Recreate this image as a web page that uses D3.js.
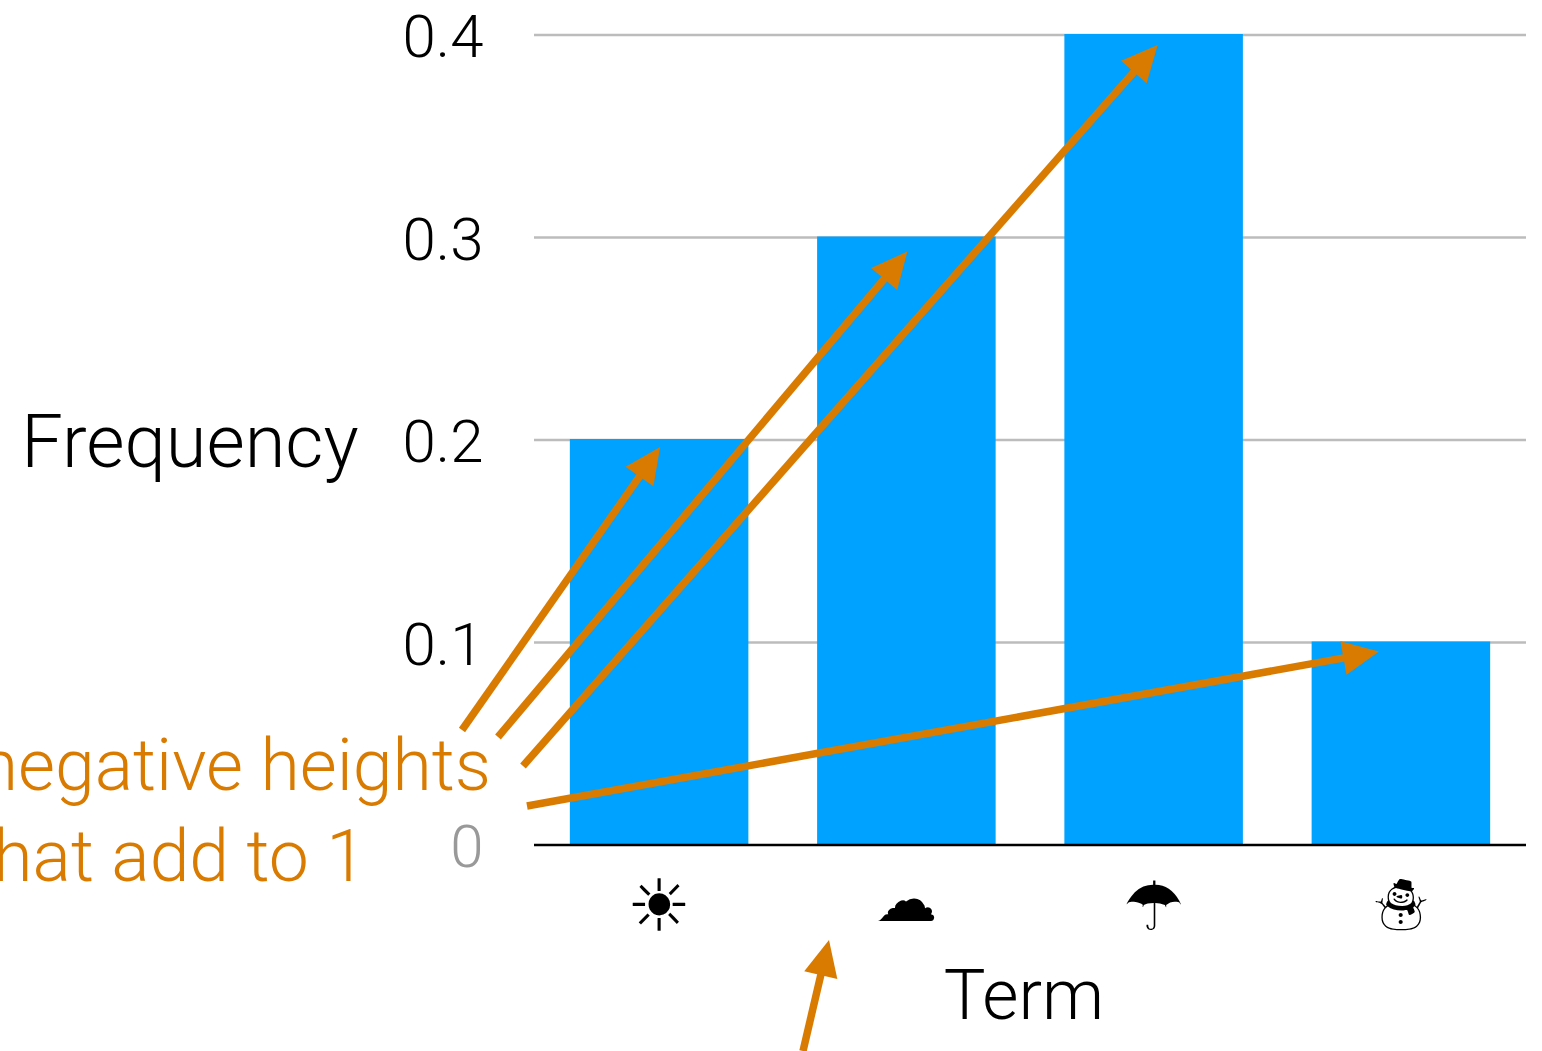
<!DOCTYPE html>
<html><head><meta charset="utf-8">
<script src="https://cdn.jsdelivr.net/npm/d3@7"></script>
<style>html,body{margin:0;padding:0;background:#fff;overflow:hidden}svg{display:block}text{font-family:Roboto,"Liberation Sans",sans-serif;font-weight:300}</style>
</head><body><div id="c"></div>
<script>
const terms=["☀","☁","☂","☃"];
const frequencies=[0.2,0.3,0.4,0.1];
const yTicks=[0,0.1,0.2,0.3,0.4];
const tickLabels=["0","0.1","0.2","0.3","0.4"];
const noteLines=["non-negative heights","that add to 1"];
const W=1542,H=1051,orange="#d97b00",blue="#00a2ff";
// closest installed glyph for each pictogram, kept as real text
const termStyle={"☀":{font:"'DejaVu Sans'",size:72,base:931},"☁":{font:"'DejaVu Sans'",size:62,base:921},"☂":{font:"'DejaVu Sans'",size:68,base:930},"☃":{font:"'Noto Sans CJK JP'",size:53,base:925}};
const svg=d3.select("#c").append("svg").attr("width",W).attr("height",H);
const x=d3.scaleBand().domain(terms).range([534,1526]).paddingInner(0.278).paddingOuter(0.145);
const y=d3.scaleLinear().domain([0,0.4]).range([845,35]);
svg.append("g").selectAll("line").data(yTicks.slice(1)).join("line")
 .attr("x1",534).attr("x2",1526).attr("y1",d=>y(d)).attr("y2",d=>y(d))
 .attr("stroke","#bcbcbc").attr("stroke-width",2.6);
svg.append("g").selectAll("rect").data(terms).join("rect")
 .attr("x",d=>x(d)).attr("width",x.bandwidth())
 .attr("y",(d,i)=>y(frequencies[i])-1).attr("height",(d,i)=>y(0)-y(frequencies[i])+1)
 .attr("fill",blue);
svg.append("line").attr("x1",534).attr("x2",1526).attr("y1",y(0)).attr("y2",y(0)).attr("stroke","#000").attr("stroke-width",2.6);
svg.append("g").selectAll("text").data(yTicks).join("text")
 .attr("x",483.5).attr("y",d=>y(d)+22).attr("text-anchor","end").attr("font-size",60)
 .attr("fill",d=>d===0?"#999":"#000").text((d,i)=>tickLabels[i]);
svg.append("g").selectAll("text").data(terms).join("text")
 .attr("x",d=>x(d)+x.bandwidth()/2).attr("y",d=>termStyle[d].base).attr("text-anchor","middle")
 .style("font-family",d=>termStyle[d].font).style("font-weight",400).attr("font-size",d=>termStyle[d].size).text(d=>d);
svg.append("text").attr("x",190).attr("y",467).attr("text-anchor","middle").attr("font-size",74).text("Frequency");
svg.append("text").attr("x",1024).attr("y",1019).attr("text-anchor","middle").attr("font-size",70).text("Term");
svg.append("text").attr("x",491).attr("y",790).attr("text-anchor","end").attr("font-size",71.5).attr("fill",orange).text(noteLines[0]);
svg.append("text").attr("x",366).attr("y",881).attr("text-anchor","end").attr("font-size",71.5).attr("fill",orange).text(noteLines[1]);
const cx=i=>x(terms[i])+x.bandwidth()/2;
const arrows=[
 {from:[462,730],to:()=>[cx(0)+1,y(frequencies[0])+7]},
 {from:[498,737],to:()=>[cx(1)+1,y(frequencies[1])+14]},
 {from:[523,766],to:()=>[cx(2)+4,y(frequencies[2])+10]},
 {from:[527,806],to:()=>[cx(3)-22,y(frequencies[3])+9]},
 {from:[803,1051],to:()=>[829,940]}];
const g=svg.append("g");
arrows.forEach(a=>{
 const [x0,y0]=a.from,[x1,y1]=a.to();
 const L=Math.hypot(x1-x0,y1-y0),ux=(x1-x0)/L,uy=(y1-y0)/L,hl=36,hw=17;
 const bx=x1-ux*hl,by=y1-uy*hl;
 g.append("line").attr("x1",x0).attr("y1",y0).attr("x2",bx+ux*2).attr("y2",by+uy*2).attr("stroke",orange).attr("stroke-width",7.5);
 g.append("path").attr("d",d3.line()([[x1,y1],[bx-uy*hw,by+ux*hw],[bx+uy*hw,by-ux*hw]])+"Z").attr("fill",orange);
});
</script></body></html>
